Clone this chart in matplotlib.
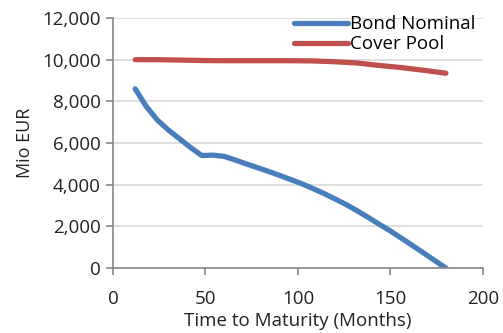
import matplotlib
matplotlib.use("Agg")
import matplotlib.pyplot as plt
from matplotlib.ticker import FuncFormatter

plt.rcParams['font.family'] = ['Open Sans', 'DejaVu Sans']

months = [12, 18, 24, 30, 36, 42, 48, 54, 60, 66, 72, 78, 84, 90, 96, 102,
          108, 114, 120, 126, 132, 138, 144, 150, 156, 162, 168, 174, 180]
bond_nominal = [8600, 7750, 7100, 6620, 6200, 5780, 5400, 5420, 5360, 5190,
                5000, 4820, 4640, 4450, 4250, 4050, 3820, 3580, 3320, 3050,
                2750, 2430, 2100, 1780, 1430, 1080, 720, 360, 0]

cover_months = [12, 24, 36, 48, 60, 72, 84, 96, 108, 120, 132, 144, 156, 168, 180]
cover_pool = [10000, 10000, 9980, 9960, 9950, 9950, 9950, 9950, 9940, 9900,
              9840, 9720, 9620, 9490, 9350]

fig = plt.figure(figsize=(5.03, 3.33), dpi=100)
ax = fig.add_axes([0.2247, 0.195, 0.7353, 0.751])

ax.plot(months, bond_nominal, color='#4A7EBB', lw=3.8, solid_capstyle='round',
        label='Bond Nominal')
ax.plot(cover_months, cover_pool, color='#C0504D', lw=3.8, solid_capstyle='round',
        label='Cover Pool')

ax.set_xlim(0, 200)
ax.set_ylim(0, 12000)
ax.set_xticks([0, 50, 100, 150, 200])
ax.set_yticks(range(0, 12001, 2000))
ax.yaxis.set_major_formatter(FuncFormatter(lambda v, p: f'{int(v):,}'))
ax.grid(axis='y', color='#D9D9D9', lw=1.2)
ax.set_axisbelow(True)

for s in ['top', 'right']:
    ax.spines[s].set_visible(False)
for s in ['left', 'bottom']:
    ax.spines[s].set_color('#868686')
    ax.spines[s].set_linewidth(1.2)
ax.tick_params(colors='#868686', labelcolor='#222222', labelsize=13.5, length=5, width=1.2)
ax.tick_params(axis='x', pad=11)
ax.tick_params(axis='y', pad=4)

# reference cuts this label at the bottom edge; keep it just inside
ax.set_xlabel('Time to Maturity (Months)', fontsize=13.5, color='#222222', labelpad=3)
ax.set_ylabel('Mio EUR', fontsize=13, color='#222222', labelpad=6)

ax.legend(loc='upper right', bbox_to_anchor=(1.0, 1.04), frameon=False, fontsize=13.5,
          handlelength=2.9, handletextpad=0.1, labelspacing=0.1, borderaxespad=0)

fig.savefig('out.png', dpi=100)
